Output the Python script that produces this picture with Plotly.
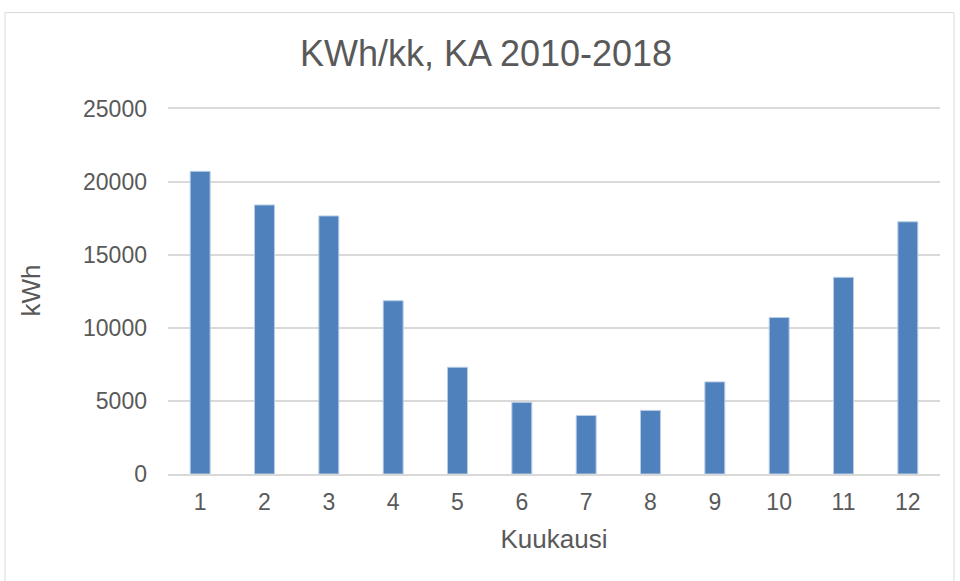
import plotly.graph_objects as go

months = ["1", "2", "3", "4", "5", "6", "7", "8", "9", "10", "11", "12"]
kwh = [20700, 18400, 17650, 11850, 7300, 4900, 4000, 4350, 6300, 10700, 13450, 17250]
y_ticks = [0, 5000, 10000, 15000, 20000, 25000]

W, H = 960, 581
ymax = 25100
ml, mr, mb = 168, 20, 107
ph = (474 - 108) * ymax / 25000
mt = H - mb - ph
TXT = "#595959"
FONT = "Liberation Sans, Arial, sans-serif"

fig = go.Figure(go.Bar(
    x=months, y=kwh,
    marker=dict(color="#4F81BD", line=dict(color="#B9CDE5", width=1)),
    width=0.31,
))

pw = W - ml - mr
# outer chart border in paper coords
x0 = (5 - ml) / pw
x1 = (954 - ml) / pw
y1 = (H - mb - 12) / ph
y0 = (H - mb - 590) / ph

fig.update_layout(
    width=W, height=H,
    margin=dict(l=ml, r=mr, t=mt, b=mb, autoexpand=False),
    paper_bgcolor="white", plot_bgcolor="white",
    font=dict(family=FONT, color=TXT, size=23),
    title=dict(text="KWh/kk, KA 2010-2018", x=486 / W, xanchor="center",
               y=1 - 53 / H, yanchor="middle", yref="container",
               font=dict(size=36, color=TXT, family=FONT)),
    showlegend=False,
    xaxis=dict(title=dict(text="Kuukausi", font=dict(size=26, color=TXT), standoff=15),
               showgrid=False, showline=True, linecolor="#D9D9D9", linewidth=1.5,
               ticks="", tickfont=dict(size=23, color=TXT), ticklabelstandoff=7),
    yaxis=dict(title=dict(text="kWh", font=dict(size=26, color=TXT), standoff=34),
               range=[0, ymax], tickvals=y_ticks, ticktext=[str(v) for v in y_ticks],
               showgrid=True, gridcolor="#D9D9D9", gridwidth=1.5,
               zeroline=False, ticks="", tickfont=dict(size=23, color=TXT),
               ticklabelstandoff=20),
    shapes=[dict(type="rect", xref="paper", yref="paper", x0=x0, x1=x1, y0=y0, y1=y1,
                 line=dict(color="#D9D9D9", width=1), fillcolor="rgba(0,0,0,0)", layer="below")],
)

fig.write_html("out.html", config={"displayModeBar": False},
               post_script="document.body.style.margin='0';document.body.style.overflow='hidden';")
